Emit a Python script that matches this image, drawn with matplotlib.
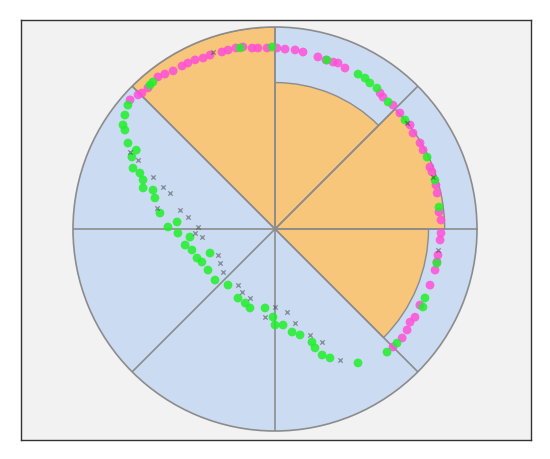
import numpy as np
import matplotlib
matplotlib.use("Agg")
import matplotlib.pyplot as plt

# Sector bars (degrees of sector centre, radius)
bar_theta = [22.5, 67.5, 112.5, 337.5]
bar_radius = [0.84, 0.725, 1.0, 0.76]

# Points: angle (deg), radius
pink_theta = [138.3, 135.6, 134.4, 132.0, 127.6, 125.4, 122.8, 119.7, 117.7, 115.3,
              112.8, 110.5, 106.7, 104.7, 102.2, 100.0, 97.2, 95.4, 92.5, 89.4,
              86.8, 83.6, 81.0, 76.0, 73.2, 70.8, 69.2, 66.5, 52.3, 50.7,
              46.4, 42.9, 37.6, 34.8, 30.7, 28.1, 21.8, 20.0, 15.3, 12.5,
              5.9, 3.1, -1.4, -3.8, -9.1, -11.5, -14.4, -19.9, -27.7, -32.2,
              -34.6, -37.4, -40.6, -45.0]
pink_r = [0.961, 0.949, 0.942, 0.940, 0.950, 0.941, 0.931, 0.929, 0.928, 0.926,
          0.918, 0.919, 0.915, 0.916, 0.917, 0.915, 0.903, 0.900, 0.897, 0.896,
          0.892, 0.892, 0.887, 0.878, 0.874, 0.875, 0.879, 0.869, 0.851, 0.844,
          0.847, 0.844, 0.844, 0.832, 0.835, 0.831, 0.826, 0.827, 0.826, 0.822,
          0.816, 0.823, 0.822, 0.819, 0.817, 0.818, 0.818, 0.816, 0.810, 0.819,
          0.812, 0.823, 0.829, 0.826]

green_theta = [139.9, 131.0, 129.7, 100.9, 90.9, 72.9, 61.8, 59.2, 57.0, 54.1,
               48.3, 40.0, 25.3, 17.0, 7.6, -11.9, -24.7, -27.8, -43.1, -47.7,
               142.8, 145.6, 146.6, 149.7, 150.4, 153.3, 156.8, 157.5, 159.6, 162.7,
               162.3, 165.5, 172.1, 178.9, 175.9, 182.4, 185.4, 190.1, 194.2, 200.4,
               200.3, 204.3, 211.5, 220.4, 230.0, 241.8, 248.1, 252.4, 262.8, 268.7,
               270.0, 274.8, 279.4, 283.3, 288.1, 288.6, 290.5, 293.1, 301.8]
green_r = [0.952, 0.944, 0.946, 0.913, 0.901, 0.875, 0.870, 0.870, 0.862, 0.861,
           0.842, 0.840, 0.833, 0.828, 0.819, 0.819, 0.817, 0.828, 0.827, 0.824,
           0.933, 0.912, 0.890, 0.843, 0.790, 0.793, 0.765, 0.724, 0.697, 0.684,
           0.634, 0.614, 0.575, 0.530, 0.486, 0.481, 0.423, 0.452, 0.424, 0.412,
           0.343, 0.397, 0.389, 0.390, 0.362, 0.388, 0.395, 0.410, 0.394, 0.436,
           0.475, 0.477, 0.517, 0.539, 0.589, 0.621, 0.666, 0.694, 0.780]

gray_theta = [152.0, 153.3, 156.9, 159.4, 161.1, 169.9, 168.7, 172.1, 178.5, 182.9,
              186.3, 204.5, 211.7, 219.6, 236.5, 242.4, 250.1, 270.0, 278.2, 263.5,
              282.0, 288.3, 292.6, 296.4, 109.3, 38.8, 18.2, -7.3]
gray_r = [0.813, 0.759, 0.657, 0.592, 0.550, 0.593, 0.480, 0.435, 0.381, 0.396,
          0.364, 0.310, 0.320, 0.334, 0.332, 0.352, 0.363, 0.386, 0.415, 0.438,
          0.476, 0.553, 0.606, 0.724, 0.928, 0.838, 0.823, 0.816]

fig = plt.figure(figsize=(5.5, 4.59), dpi=100)
fig.patch.set_facecolor("white")

# grey framed box behind the polar plot
bg = fig.add_axes([21 / 550, 19 / 459, 510 / 550, 420 / 459])
bg.set_facecolor("#f2f2f2")
bg.set_xticks([])
bg.set_yticks([])
for s in bg.spines.values():
    s.set_color("#333333")
    s.set_linewidth(1.0)

ax = fig.add_axes([73 / 550, 28 / 459, 404 / 550, 404 / 459], projection="polar")
ax.set_facecolor("#cbdcf2")
ax.bar(np.radians(bar_theta), bar_radius, width=np.pi / 4,
       color="#f8c67b", edgecolor="#8c8c8c", linewidth=1.0, zorder=1)

ax.scatter(np.radians(pink_theta), pink_r, s=40, color="#ff4fd8",
           alpha=0.85, edgecolors="none", zorder=3)
ax.scatter(np.radians(green_theta), green_r, s=40, color="#1ff02a",
           alpha=0.85, edgecolors="none", zorder=3)
ax.scatter(np.radians(gray_theta), gray_r, s=10, marker="x", color="#333333",
           alpha=0.45, linewidths=1.0, zorder=4)

ax.set_ylim(0, 1)
ax.set_yticks([])
ax.set_xticks(np.radians(np.arange(0, 360, 45)))
ax.set_xticklabels([])
ax.grid(True, color="#8c8c8c", linewidth=1.2)
ax.spines["polar"].set_color("#8c8c8c")
ax.spines["polar"].set_linewidth(1.2)

fig.savefig("out.png", dpi=100)
